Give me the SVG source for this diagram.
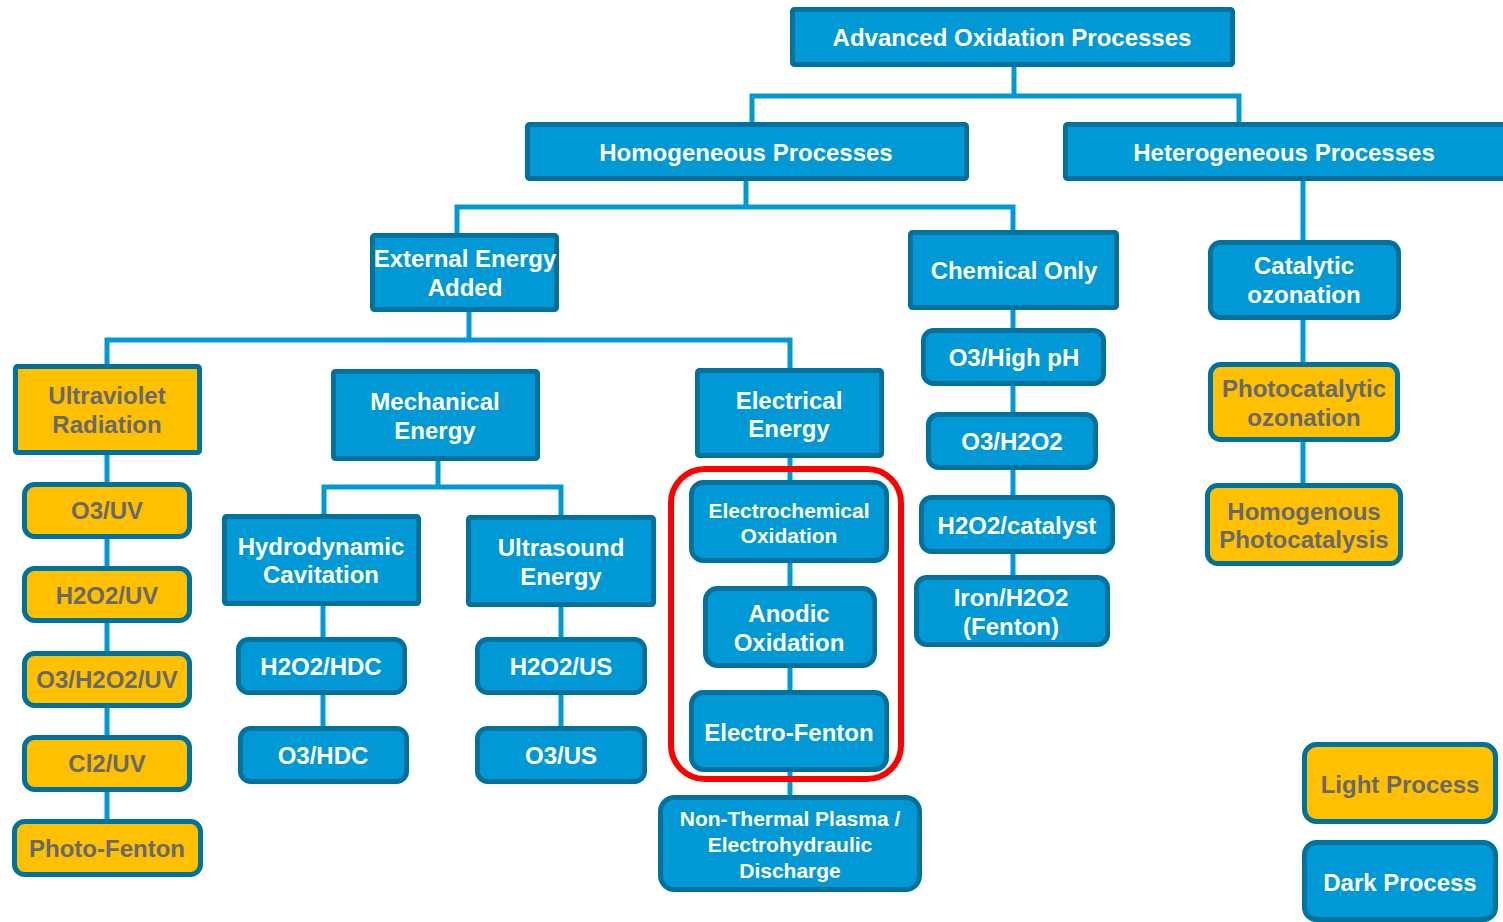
<svg xmlns="http://www.w3.org/2000/svg" width="1503" height="922" viewBox="0 0 1503 922">
<style>
.b{fill:#0099D6;stroke:#00719C;stroke-width:5}
.y{fill:#FFC000;stroke:#00719C;stroke-width:5}
.t{font-family:"Liberation Sans",Arial,sans-serif;font-weight:bold;font-size:24px;text-anchor:middle;fill:#FFFFFF}
.g{fill:#696969}
.s{font-size:21px}
.c{fill:none;stroke:#0099D6;stroke-width:5}
</style>
<rect width="1503" height="922" fill="#FFFFFF"/>
<g id="connectors">
<path class="c" d="M1014,67V96M752,122V96H1239V122"/>
<path class="c" d="M746,181V207M457,233V207H1013V232"/>
<path class="c" d="M1303,181V240M1303,320V483"/>
<path class="c" d="M469,312V340M107,365V340H790V368"/>
<path class="c" d="M107,455V819"/>
<path class="c" d="M438,461V487M324,514V487H561V515"/>
<path class="c" d="M323,606V726M561,607V726"/>
<path class="c" d="M790,458V795"/>
<path class="c" d="M1013,310V577"/>
</g>
<g id="aop"><rect class="b" x="792.5" y="9.5" width="440" height="55" rx="2"/><text class="t" x="1012" y="46">Advanced Oxidation Processes</text></g>
<g id="homogeneous"><rect class="b" x="527.5" y="124.5" width="439" height="54" rx="2"/><text class="t" x="746" y="161">Homogeneous Processes</text></g>
<g id="heterogeneous"><rect class="b" x="1065.5" y="124.5" width="445" height="54" rx="2"/><text class="t" x="1284" y="161">Heterogeneous Processes</text></g>
<g id="external"><rect class="b" x="372.5" y="235.5" width="184" height="74" rx="2"/><text class="t" x="465" y="267">External Energy</text><text class="t" x="465" y="296">Added</text></g>
<g id="chemical"><rect class="b" x="910.5" y="232.5" width="206" height="75" rx="2"/><text class="t" x="1014" y="279">Chemical Only</text></g>
<g id="catalytic"><rect class="b" x="1210.5" y="242.5" width="188" height="75" rx="10"/><text class="t" x="1304" y="274">Catalytic</text><text class="t" x="1304" y="303">ozonation</text></g>
<g id="uv"><rect class="y" x="15.5" y="366.5" width="184" height="86" rx="2"/><text class="t g" x="107" y="404">Ultraviolet</text><text class="t g" x="107" y="433">Radiation</text></g>
<g id="o3uv"><rect class="y" x="24.5" y="484.5" width="165" height="52" rx="10"/><text class="t g" x="107" y="519">O3/UV</text></g>
<g id="h2o2uv"><rect class="y" x="24.5" y="568.5" width="165" height="52" rx="10"/><text class="t g" x="107" y="604">H2O2/UV</text></g>
<g id="o3h2o2uv"><rect class="y" x="24.5" y="653.5" width="165" height="52" rx="10"/><text class="t g" x="107" y="688">O3/H2O2/UV</text></g>
<g id="cl2uv"><rect class="y" x="24.5" y="737.5" width="165" height="52" rx="10"/><text class="t g" x="107" y="772">Cl2/UV</text></g>
<g id="photofenton"><rect class="y" x="14.5" y="821.5" width="186" height="53" rx="10"/><text class="t g" x="107" y="857">Photo-Fenton</text></g>
<g id="mechanical"><rect class="b" x="333.5" y="371.5" width="204" height="87" rx="2"/><text class="t" x="435" y="410">Mechanical</text><text class="t" x="435" y="439">Energy</text></g>
<g id="electrical"><rect class="b" x="697.5" y="370.5" width="184" height="85" rx="2"/><text class="t" x="789" y="409">Electrical</text><text class="t" x="789" y="437">Energy</text></g>
<g id="hydrodynamic"><rect class="b" x="224.5" y="516.5" width="194" height="87" rx="2"/><text class="t" x="321" y="555">Hydrodynamic</text><text class="t" x="321" y="583">Cavitation</text></g>
<g id="ultrasound"><rect class="b" x="468.5" y="517.5" width="185" height="87" rx="2"/><text class="t" x="561" y="556">Ultrasound</text><text class="t" x="561" y="585">Energy</text></g>
<g id="h2o2hdc"><rect class="b" x="238.5" y="639.5" width="166" height="53" rx="10"/><text class="t" x="321" y="675">H2O2/HDC</text></g>
<g id="o3hdc"><rect class="b" x="240.5" y="728.5" width="166" height="53" rx="10"/><text class="t" x="323" y="764">O3/HDC</text></g>
<g id="h2o2us"><rect class="b" x="477.5" y="639.5" width="167" height="53" rx="10"/><text class="t" x="561" y="675">H2O2/US</text></g>
<g id="o3us"><rect class="b" x="477.5" y="728.5" width="167" height="53" rx="10"/><text class="t" x="561" y="764">O3/US</text></g>
<g id="highlight"><rect x="671" y="469" width="230" height="310" rx="34" fill="none" stroke="#FF0000" stroke-width="6"/></g>
<g id="electrochemical"><rect class="b" x="691.5" y="482.5" width="195" height="78" rx="12"/><text class="t s" x="789" y="518">Electrochemical</text><text class="t s" x="789" y="543">Oxidation</text></g>
<g id="anodic"><rect class="b" x="705.5" y="588.5" width="169" height="77" rx="12"/><text class="t" x="789" y="622">Anodic</text><text class="t" x="789" y="651">Oxidation</text></g>
<g id="electrofenton"><rect class="b" x="691.5" y="692.5" width="195" height="77" rx="12"/><text class="t" x="789" y="741">Electro-Fenton</text></g>
<g id="plasma"><rect class="b" x="660.5" y="797.5" width="259" height="92" rx="14"/><text class="t s" x="790" y="826">Non-Thermal Plasma /</text><text class="t s" x="790" y="852">Electrohydraulic</text><text class="t s" x="790" y="878">Discharge</text></g>
<g id="o3highph"><rect class="b" x="923.5" y="330.5" width="180" height="53" rx="10"/><text class="t" x="1014" y="366">O3/High pH</text></g>
<g id="o3h2o2"><rect class="b" x="928.5" y="414.5" width="167" height="53" rx="10"/><text class="t" x="1012" y="450">O3/H2O2</text></g>
<g id="h2o2catalyst"><rect class="b" x="921.5" y="497.5" width="191" height="54" rx="10"/><text class="t" x="1017" y="534">H2O2/catalyst</text></g>
<g id="fenton"><rect class="b" x="916.5" y="577.5" width="191" height="67" rx="10"/><text class="t" x="1011" y="606">Iron/H2O2</text><text class="t" x="1011" y="635">(Fenton)</text></g>
<g id="photocatalytic"><rect class="y" x="1210.5" y="364.5" width="187" height="75" rx="10"/><text class="t g" x="1304" y="397">Photocatalytic</text><text class="t g" x="1304" y="426">ozonation</text></g>
<g id="homphotocatalysis"><rect class="y" x="1207.5" y="485.5" width="193" height="78" rx="10"/><text class="t g" x="1304" y="520">Homogenous</text><text class="t g" x="1304" y="548">Photocatalysis</text></g>
<g id="light"><rect class="y" x="1304.5" y="744.5" width="191" height="77" rx="12"/><text class="t g" x="1400" y="793">Light Process</text></g>
<g id="dark"><rect class="b" x="1304.5" y="842.5" width="191" height="77" rx="12"/><text class="t" x="1400" y="891">Dark Process</text></g>
</svg>
